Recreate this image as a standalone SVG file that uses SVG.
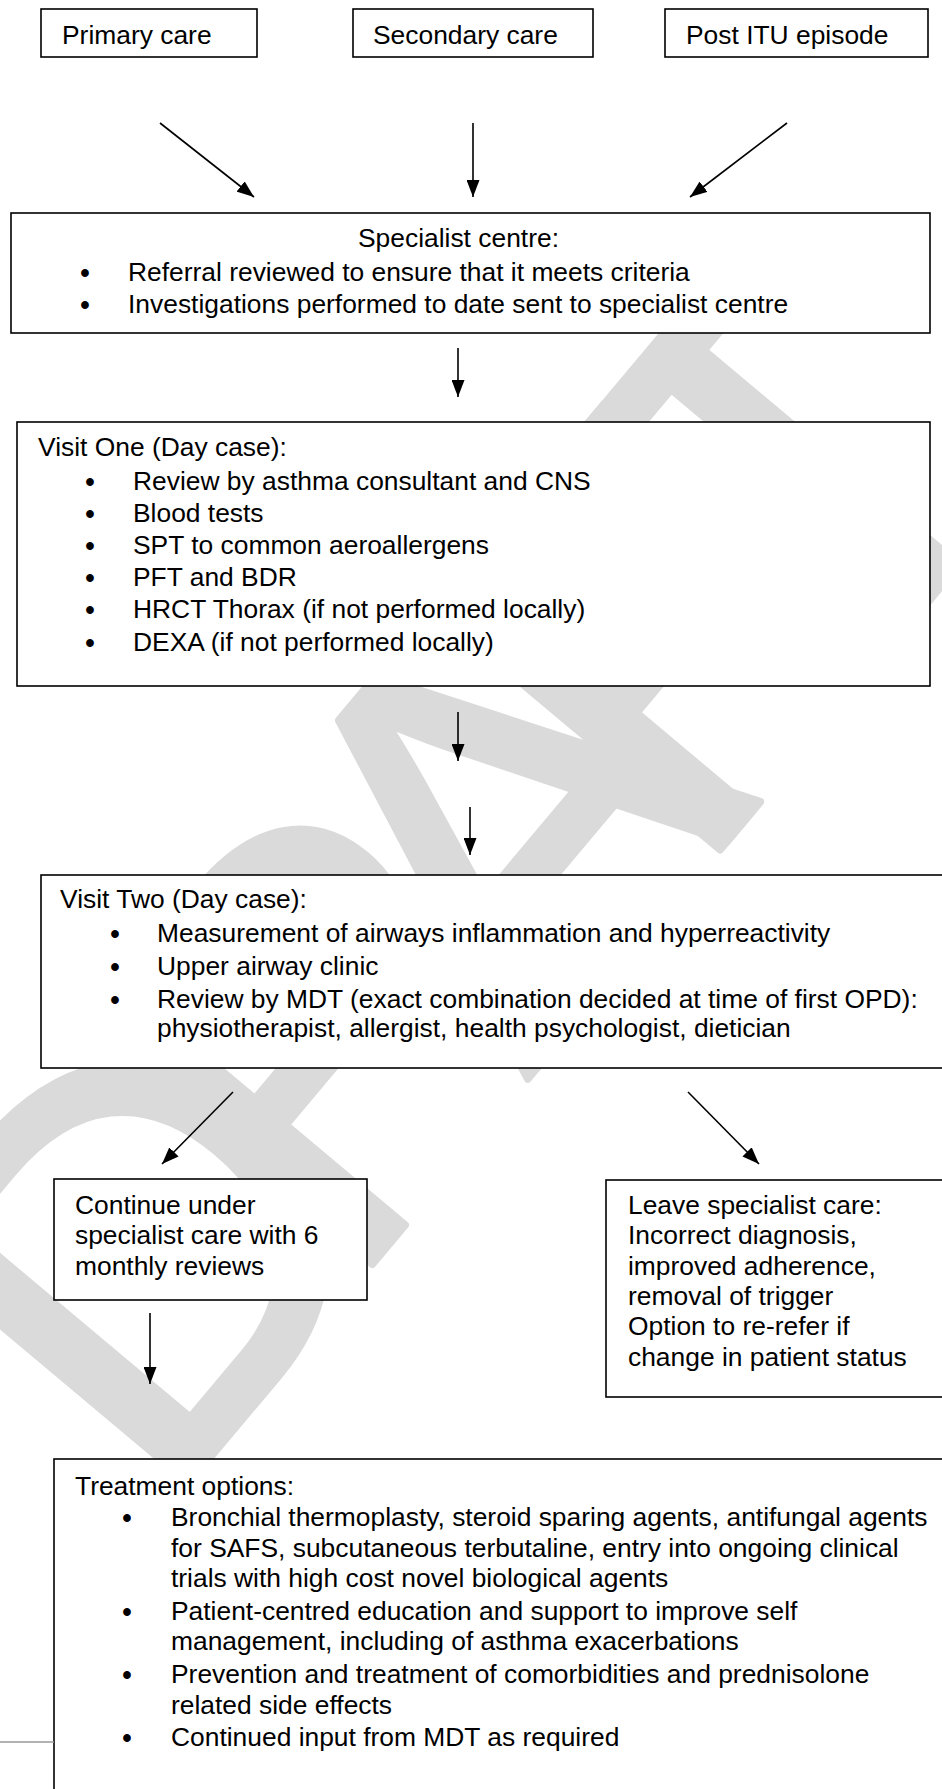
<svg xmlns="http://www.w3.org/2000/svg" width="942" height="1789" viewBox="0 0 942 1789">
<defs>
<style>
.box{fill:#fff;stroke:#000;stroke-width:1.6}
.t{font-family:"Liberation Sans",Arial,sans-serif;font-size:26.4px;fill:#000}
.b{font-family:"Liberation Sans",Arial,sans-serif;font-size:27px;font-weight:bold;fill:#000;text-anchor:middle}
.c{stroke:#000;stroke-width:1.6;fill:none;marker-end:url(#ah)}
.wm{font-family:"Liberation Sans",Arial,sans-serif;font-size:545px;letter-spacing:-108px;fill:#dadada;stroke:#dadada;stroke-width:8;stroke-linejoin:round}
</style>
<marker id="ah" markerUnits="userSpaceOnUse" markerWidth="17" markerHeight="13" refX="17" refY="6.5" orient="auto">
<path d="M0,0 L17,6.5 L0,13 z" fill="#000"/>
</marker>
</defs>
<rect width="942" height="1789" fill="#fff"/>

<g id="watermark">
<text class="wm" transform="translate(160,1517) rotate(-50)">DRAFT</text>
</g>

<g id="connectors">
<line class="c" x1="160" y1="123" x2="254" y2="197"/>
<line class="c" x1="473" y1="123" x2="473" y2="197"/>
<line class="c" x1="787" y1="123" x2="690" y2="197"/>
<line class="c" x1="458" y1="348" x2="458" y2="397"/>
<line class="c" x1="458" y1="712" x2="458" y2="761"/>
<line class="c" x1="470" y1="807" x2="470" y2="855"/>
<line class="c" x1="233" y1="1092" x2="162" y2="1164"/>
<line class="c" x1="688" y1="1092" x2="759" y2="1164"/>
<line class="c" x1="150" y1="1313" x2="150" y2="1384"/>
</g>

<g id="primary">
<rect class="box" x="41" y="9" width="216" height="48"/>
<text class="t" x="62" y="44">Primary care</text>
</g>
<g id="secondary">
<rect class="box" x="353" y="9" width="240" height="48"/>
<text class="t" x="373" y="44">Secondary care</text>
</g>
<g id="postitu">
<rect class="box" x="665" y="9" width="263" height="48"/>
<text class="t" x="686" y="44">Post ITU episode</text>
</g>

<g id="specialist">
<rect class="box" x="11" y="213" width="919" height="120"/>
<text class="t" x="358" y="247">Specialist centre:</text>
<text class="b" x="85" y="282">•</text>
<text class="t" x="128" y="281">Referral reviewed to ensure that it meets criteria</text>
<text class="b" x="85" y="314">•</text>
<text class="t" x="128" y="313">Investigations performed to date sent to specialist centre</text>
</g>

<g id="visit1">
<rect class="box" x="17" y="422" width="913" height="264"/>
<text class="t" x="38" y="456">Visit One (Day case):</text>
<text class="b" x="90" y="491">•</text><text class="t" x="133" y="490">Review by asthma consultant and CNS</text>
<text class="b" x="90" y="523">•</text><text class="t" x="133" y="522">Blood tests</text>
<text class="b" x="90" y="555">•</text><text class="t" x="133" y="554">SPT to common aeroallergens</text>
<text class="b" x="90" y="587">•</text><text class="t" x="133" y="586">PFT and BDR</text>
<text class="b" x="90" y="619">•</text><text class="t" x="133" y="618">HRCT Thorax (if not performed locally)</text>
<text class="b" x="90" y="652">•</text><text class="t" x="133" y="651">DEXA (if not performed locally)</text>
</g>

<g id="visit2">
<rect class="box" x="41" y="875" width="912" height="193"/>
<text class="t" x="60" y="908">Visit Two (Day case):</text>
<text class="b" x="115" y="943">•</text><text class="t" x="157" y="942">Measurement of airways inflammation and hyperreactivity</text>
<text class="b" x="115" y="976">•</text><text class="t" x="157" y="975">Upper airway clinic</text>
<text class="b" x="115" y="1009">•</text><text class="t" x="157" y="1008">Review by MDT (exact combination decided at time of first OPD):</text>
<text class="t" x="157" y="1037">physiotherapist, allergist, health psychologist, dietician</text>
</g>

<g id="continue">
<rect class="box" x="54" y="1179" width="313" height="121"/>
<text class="t" x="75" y="1214">Continue under</text>
<text class="t" x="75" y="1244">specialist care with 6</text>
<text class="t" x="75" y="1275">monthly reviews</text>
</g>

<g id="leave">
<rect class="box" x="606" y="1180" width="345" height="217"/>
<text class="t" x="628" y="1214">Leave specialist care:</text>
<text class="t" x="628" y="1244">Incorrect diagnosis,</text>
<text class="t" x="628" y="1275">improved adherence,</text>
<text class="t" x="628" y="1305">removal of trigger</text>
<text class="t" x="628" y="1335">Option to re-refer if</text>
<text class="t" x="628" y="1366">change in patient status</text>
</g>

<g id="treatment">
<rect class="box" x="54" y="1459" width="900" height="400"/>
<text class="t" x="75" y="1495">Treatment options:</text>
<text class="b" x="127" y="1527">•</text><text class="t" x="171" y="1526">Bronchial thermoplasty, steroid sparing agents, antifungal agents</text>
<text class="t" x="171" y="1557">for SAFS, subcutaneous terbutaline, entry into ongoing clinical</text>
<text class="t" x="171" y="1587">trials with high cost novel biological agents</text>
<text class="b" x="127" y="1621">•</text><text class="t" x="171" y="1620">Patient-centred education and support to improve self</text>
<text class="t" x="171" y="1650">management, including of asthma exacerbations</text>
<text class="b" x="127" y="1684">•</text><text class="t" x="171" y="1683">Prevention and treatment of comorbidities and prednisolone</text>
<text class="t" x="171" y="1714">related side effects</text>
<text class="b" x="127" y="1747">•</text><text class="t" x="171" y="1746">Continued input from MDT as required</text>
</g>

<line x1="0" y1="1742" x2="54" y2="1742" stroke="#999" stroke-width="1.5"/>
</svg>
